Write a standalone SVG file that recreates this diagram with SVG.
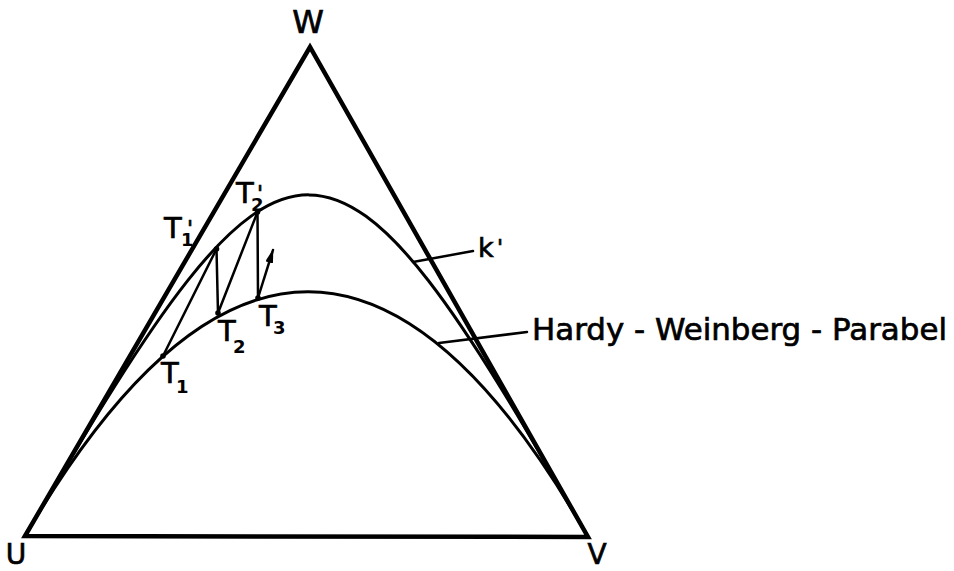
<svg xmlns="http://www.w3.org/2000/svg" width="954" height="571" viewBox="0 0 954 571">
<style>
.side{fill:none;stroke:#000;stroke-width:4.5;stroke-linejoin:miter}
.curve{fill:none;stroke:#000;stroke-width:3}
.thin{fill:none;stroke:#000;stroke-width:2.5;stroke-linecap:round}
.lbl{font-family:"DejaVu Sans","Liberation Sans",sans-serif;fill:#000;stroke:#000;stroke-width:0.7}
.big{font-size:31px}
.t{font-size:29px}
.sub{font-size:18px;font-weight:bold;stroke-width:0}
.pr{font-size:22px}
.dot{fill:#000}
</style>
<defs>
<marker id="ah" viewBox="0 0 14 8" refX="13" refY="4" markerWidth="14" markerHeight="8" markerUnits="userSpaceOnUse" orient="auto">
<path d="M0,0 L14,4 L0,8 Z" fill="#000"/>
</marker>
</defs>
<g id="triangle">
<path class="side" d="M25,536 L310,47 L588,537 Z"/>
</g>
<g id="curves">
<path id="hardy-weinberg" class="curve" d="M25,536 Q310,47 588,537"/>
<path id="k-prime" class="curve" d="M25,536 C289,81 330,81 588,537"/>
</g>
<g id="connectors">
<line class="thin" x1="163" y1="356" x2="216.5" y2="249"/>
<line class="thin" x1="216.5" y1="249" x2="218" y2="313"/>
<line class="thin" x1="218" y1="313" x2="257.5" y2="212"/>
<line class="thin" x1="257.5" y1="212" x2="258" y2="298"/>
<line class="thin" x1="258" y1="298" x2="273" y2="250" marker-end="url(#ah)"/>
<line class="thin" x1="413" y1="262" x2="473" y2="251"/>
<line class="thin" x1="439" y1="343" x2="527" y2="332"/>
</g>
<g id="points">
<circle class="dot" cx="163" cy="356" r="2.8"/>
<circle class="dot" cx="216.5" cy="249" r="2.8"/>
<circle class="dot" cx="218" cy="313" r="2.8"/>
<circle class="dot" cx="257.5" cy="212" r="2.8"/>
<circle class="dot" cx="258" cy="298" r="2.8"/>
</g>
<g id="vertex-labels">
<text class="lbl" x="308" y="33" font-size="32" text-anchor="middle">W</text>
<text class="lbl" x="16" y="564" font-size="28" text-anchor="middle">U</text>
<text class="lbl" x="597" y="564" font-size="28" text-anchor="middle">V</text>
</g>
<g id="curve-labels">
<text class="lbl" x="478" y="257" font-size="27">k<tspan class="pr" x="497" y="255">'</tspan></text>
<text class="lbl big" x="532" y="340" textLength="415" lengthAdjust="spacingAndGlyphs">Hardy - Weinberg - Parabel</text>
</g>
<g id="point-labels">
<text class="lbl t" x="164" y="238">T<tspan class="sub" x="181" y="246">1</tspan><tspan class="pr" x="187" y="236">'</tspan></text>
<text class="lbl t" x="236" y="203">T<tspan class="sub" x="251" y="211">2</tspan><tspan class="pr" x="257" y="201">'</tspan></text>
<text class="lbl t" x="259" y="326">T<tspan class="sub" x="273" y="334">3</tspan></text>
<text class="lbl t" x="218" y="341">T<tspan class="sub" x="233" y="353">2</tspan></text>
<text class="lbl t" x="161" y="383">T<tspan class="sub" x="176" y="393">1</tspan></text>
</g>
</svg>
